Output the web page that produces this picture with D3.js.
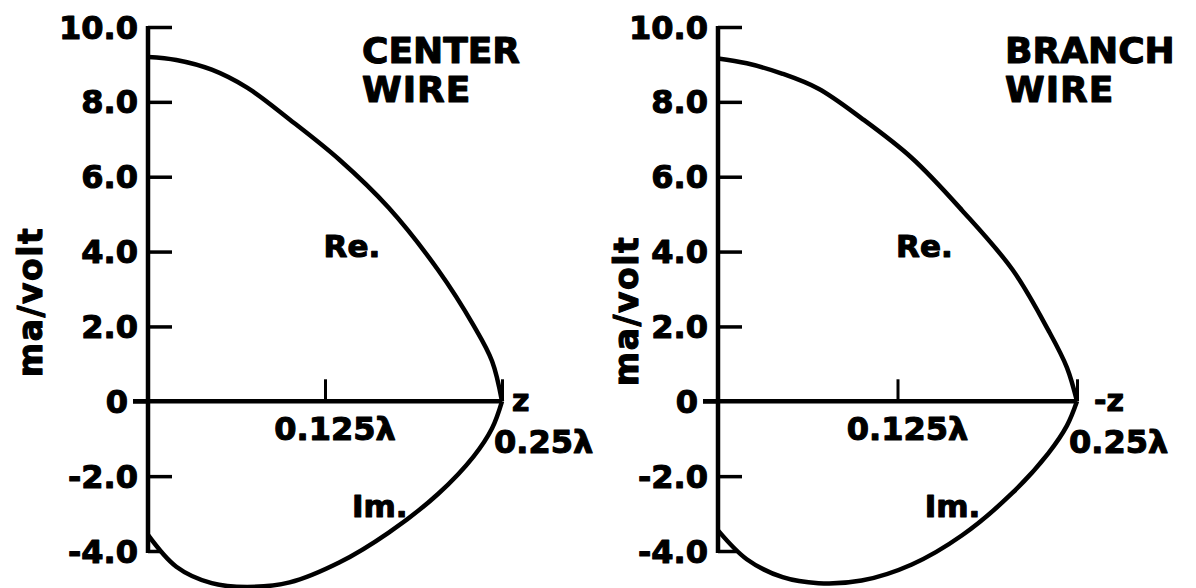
<!DOCTYPE html>
<html>
<head>
<meta charset="utf-8">
<script src="https://cdn.jsdelivr.net/npm/d3@7"></script>
<style>
  html, body { margin: 0; padding: 0; background: #fff; }
  svg text { font-family: "DejaVu Sans", "Liberation Sans", sans-serif; font-weight: bold; fill: #000;
             stroke: #000; stroke-width: 1.1px; stroke-linejoin: round; }
</style>
</head>
<body>
<svg id="chart" width="1196" height="588"></svg>
<script>
// Position along the wire, in wavelengths
const zPositions = [0, 0.02, 0.045, 0.07, 0.10, 0.135, 0.17, 0.205, 0.23, 0.243, 0.25];

// Current distribution (ma/volt) on the center wire
const centerRe = [9.2, 9.12, 8.86, 8.38, 7.53, 6.46, 5.17, 3.5, 2.02, 1.07, 0];
const centerIm = [-3.57, -4.42, -4.86, -4.96, -4.84, -4.31, -3.51, -2.47, -1.47, -0.72, 0];

// Current distribution (ma/volt) on the branch wire
const branchRe = [9.16, 9.03, 8.75, 8.35, 7.56, 6.5, 5.1, 3.52, 1.9, 0.9, 0];
const branchIm = [-3.45, -4.22, -4.7, -4.86, -4.79, -4.36, -3.58, -2.45, -1.39, -0.65, 0];

// Axis ticks
const yTickValues = [10, 8, 6, 4, 2, 0, -2, -4];
const yTickLabels = ["10.0", "8.0", "6.0", "4.0", "2.0", "0", "-2.0", "-4.0"];
const xTickValues = [0.125, 0.25];
const xTickLabels = ["0.125λ", "0.25λ"];

const svg = d3.select("#chart");

const panels = [
  { title: ["CENTER", "WIRE"], zLabel: "z", re: centerRe, im: centerIm,
    left: 148, right: 502, titleX: 362, yLabelX: 42, yLabelY: 302 },
  { title: ["BRANCH", "WIRE"], zLabel: "-z", re: branchRe, im: branchIm,
    left: 718, right: 1077, titleX: 1005, yLabelX: 638, yLabelY: 311 }
];

const y = d3.scaleLinear().domain([-4, 10]).range([551, 27]);

// Where a series first crosses a given level (linear between samples)
function crossing(values, level) {
  for (let i = 1; i < values.length; i++) {
    const a = values[i - 1], b = values[i];
    if ((a - level) * (b - level) <= 0 && a !== b) {
      const t = (level - a) / (b - a);
      return zPositions[i - 1] + t * (zPositions[i] - zPositions[i - 1]);
    }
  }
  return 0;
}

panels.forEach(p => {
  const x = d3.scaleLinear().domain([0, 0.25]).range([p.left, p.right]);
  const g = svg.append("g");

  // y-axis line with inward ticks
  const yAxis = g.append("g")
    .attr("transform", `translate(${p.left},0)`)
    .call(d3.axisRight(y).tickValues(yTickValues).tickSize(24).tickSizeOuter(0).tickFormat(""));
  yAxis.select(".domain").attr("stroke", "#000").attr("stroke-width", 4.5).attr("d", `M0,${y(10) - 1}V${y(-4) + 2}`);
  yAxis.selectAll(".tick line").attr("stroke", "#000").attr("stroke-width", 3.5);
  // zero tick sits on the horizontal axis and reaches a little to the left
  yAxis.selectAll(".tick").filter(d => d === 0).select("line").attr("x1", -15).attr("x2", 0);
  // lowest tick stops where it meets the Im curve
  const zCross = crossing(p.im, -4);
  yAxis.selectAll(".tick").filter(d => d === -4).select("line").attr("x2", x(zCross) - p.left - 2);

  // y tick labels
  g.selectAll(".ylab").data(yTickValues).join("text")
    .attr("x", d => p.left - (d === 0 ? 20 : 10))
    .attr("y", d => y(d))
    .attr("dy", "0.36em")
    .attr("text-anchor", "end")
    .attr("font-size", 32)
    .text((d, i) => yTickLabels[i]);

  // horizontal axis
  g.append("line")
    .attr("x1", p.left - 15).attr("x2", x(0.25))
    .attr("y1", y(0)).attr("y2", y(0))
    .attr("stroke", "#000").attr("stroke-width", 4.5);
  const xAxis = g.append("g")
    .attr("transform", `translate(0,${y(0)})`)
    .call(d3.axisTop(x).tickValues(xTickValues).tickSize(22).tickSizeOuter(0).tickFormat(""));
  xAxis.select(".domain").remove();
  xAxis.selectAll(".tick line").attr("stroke", "#000").attr("stroke-width", 3);

  // x tick labels
  g.append("text")
    .attr("x", x(xTickValues[0]) + 10).attr("y", y(0) + 39)
    .attr("text-anchor", "middle").attr("font-size", 32)
    .text(xTickLabels[0]);
  g.append("text")
    .attr("x", x(xTickValues[1]) - 8).attr("y", y(0) + 52)
    .attr("text-anchor", "start").attr("font-size", 32)
    .text(xTickLabels[1]);
  g.append("text")
    .attr("x", x(0.25) + (p.zLabel === "z" ? 10 : 17)).attr("y", y(0) + 10)
    .attr("font-size", 30)
    .text(p.zLabel);

  // y-axis title
  g.append("text")
    .attr("transform", `translate(${p.yLabelX},${p.yLabelY}) rotate(-90)`)
    .attr("text-anchor", "middle").attr("font-size", 33).attr("letter-spacing", 1.5)
    .text("ma/volt");

  // panel title
  g.append("text").attr("x", p.titleX).attr("y", 63).attr("font-size", 36).attr("letter-spacing", 0)
    .text(p.title[0]);
  g.append("text").attr("x", p.titleX).attr("y", 102).attr("font-size", 36).attr("letter-spacing", 1)
    .text(p.title[1]);

  // curves
  const line = vals => d3.line()
    .x((d, i) => x(zPositions[i]))
    .y(d => y(d))
    .curve(d3.curveCatmullRom.alpha(0.5))(vals);
  g.append("path").attr("d", line(p.re)).attr("fill", "none").attr("stroke", "#000").attr("stroke-width", 4.5);
  g.append("path").attr("d", line(p.im)).attr("fill", "none").attr("stroke", "#000").attr("stroke-width", 4.5);

  // curve labels
  g.append("text").attr("x", x(0.124)).attr("y", y(3.85)).attr("font-size", 31).text("Re.");
  g.append("text").attr("x", x(0.144)).attr("y", y(-3.1)).attr("font-size", 31).text("Im.");
});
</script>
</body>
</html>
